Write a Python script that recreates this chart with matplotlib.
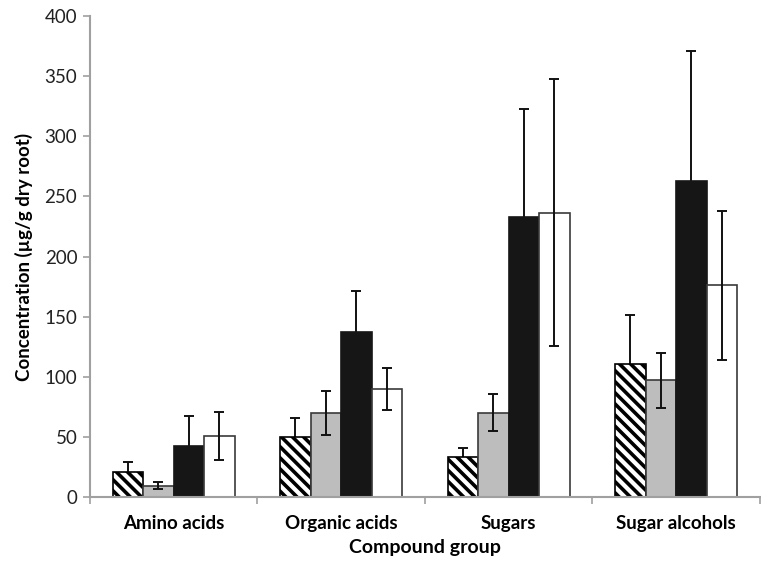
import matplotlib
matplotlib.use("Agg")
import matplotlib.pyplot as plt
import numpy as np

categories = ["Amino acids", "Organic acids", "Sugars", "Sugar alcohols"]
values = [
    [21, 50, 33, 111],     # hatched
    [9.5, 70, 70, 97],     # gray
    [42.5, 137, 233, 263], # black
    [51, 89.5, 236.5, 176] # white
]
errors = [
    [8, 16, 7.5, 40],
    [3, 18.5, 15.5, 23],
    [25, 34, 90, 108],
    [20, 17.5, 111, 62],
]

plt.rcParams["hatch.linewidth"] = 2.6
plt.rcParams["font.family"] = ["Lato", "DejaVu Sans"]

fig = plt.figure(figsize=(7.61, 5.69), dpi=100)
ax = fig.add_axes([0.118, 0.1265, 0.8807, 0.8454])

styles = [
    dict(facecolor="white", edgecolor="black", hatch="\\\\\\"),
    dict(facecolor="#bdbdbd", edgecolor="#3a3a3a"),
    dict(facecolor="#161616", edgecolor="#161616"),
    dict(facecolor="white", edgecolor="#3a3a3a"),
]
# error bars of the dark / patterned series sit behind their bars
err_z = [1, 3, 1, 3]

x = np.arange(len(categories))
width = 0.182
offsets = (np.arange(4) - 1.5) * width
for i in range(4):
    ax.bar(x + offsets[i], values[i], width, linewidth=1.2, zorder=2, **styles[i])
    ax.errorbar(x + offsets[i], values[i], yerr=errors[i], fmt="none",
                ecolor="#111111", elinewidth=1.4, capsize=3.5, capthick=1.4,
                zorder=err_z[i])

ax.set_xlim(-0.5, 3.5)
ax.set_ylim(0, 400)
ax.set_yticks(np.arange(0, 401, 50))
ax.set_xticks(x)
ax.set_xticklabels(categories, fontsize=13.5, fontweight="bold")
ax.set_xticks(np.arange(-0.5, 3.6, 1), minor=True)
ax.tick_params(axis="x", which="major", length=0, pad=13)
ax.tick_params(axis="x", which="minor", length=5, color="#a0a0a0", width=1.2)
ax.tick_params(axis="y", length=5, color="#a0a0a0", width=1.2, labelsize=13.5, pad=4)
for lab in ax.get_yticklabels():
    lab.set_color("#222222")

for s in ["top", "right"]:
    ax.spines[s].set_visible(False)
for s in ["left", "bottom"]:
    ax.spines[s].set_color("#a0a0a0")
    ax.spines[s].set_linewidth(1.5)

ax.set_ylabel("Concentration (µg/g dry root)", fontsize=13.5, fontweight="bold", labelpad=8)
ax.set_xlabel("Compound group", fontsize=14, fontweight="bold", labelpad=5)

fig.savefig("out.png", dpi=100)
